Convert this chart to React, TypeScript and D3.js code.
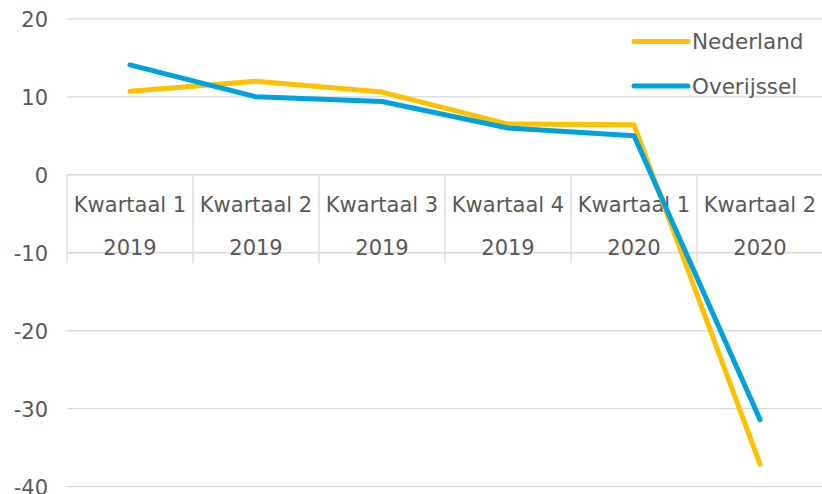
import React from "react";
import * as d3 from "d3";

const quarters = ["Kwartaal 1", "Kwartaal 2", "Kwartaal 3", "Kwartaal 4", "Kwartaal 1", "Kwartaal 2"];
const years = ["2019", "2019", "2019", "2019", "2020", "2020"];
const nederland = [10.7, 12.0, 10.6, 6.5, 6.4, -37.1];
const overijssel = [14.1, 10.0, 9.4, 6.0, 5.0, -31.4];
const yTicks = [20, 10, 0, -10, -20, -30, -40];
const seriesNames = ["Nederland", "Overijssel"];
const seriesColors = ["#FFC000", "#00A2DE"];

export default function App() {
  const W = 822, H = 494;
  const left = 67, right = 823;
  const idx = quarters.map((_, i) => i);
  const x = d3.scaleBand<number>().domain(idx).range([left, right]);
  const y = d3.scaleLinear().domain([-40, 20]).range([486.7, 18.8]);
  const font = "'DejaVu Sans', Verdana, sans-serif";
  const textColor = "#595959";
  const grid = "#d9d9d9";
  const line = d3.line<number>().x((_, i) => x(i)! + x.bandwidth() / 2).y(d => y(d));
  const series = [nederland, overijssel];
  const boundaries = d3.range(0, quarters.length + 1).map(i => left + i * x.bandwidth());
  return (
    <svg width={W} height={H} style={{ position: "absolute", left: 0, top: 0, background: "#fff" }}>
      {yTicks.map(t => (
        <g key={t}>
          <line x1={left} x2={right} y1={y(t)} y2={y(t)} stroke={grid} strokeWidth={1.3} />
          <text x={48} y={y(t) + 8.5} textAnchor="end" fontFamily={font} fontSize={21} fill={textColor}>{t}</text>
        </g>
      ))}
      {boundaries.map((b, i) => (
        <line key={i} x1={b} x2={b} y1={y(0)} y2={263} stroke={grid} strokeWidth={1.3} />
      ))}
      {idx.map(i => (
        <g key={i}>
          <text x={x(i)! + x.bandwidth() / 2} y={212} textAnchor="middle" fontFamily={font} fontSize={21} fill={textColor}>{quarters[i]}</text>
          <text x={x(i)! + x.bandwidth() / 2} y={255} textAnchor="middle" fontFamily={font} fontSize={21} fill={textColor}>{years[i]}</text>
        </g>
      ))}
      {series.map((s, k) => (
        <path key={k} d={line(s)!} fill="none" stroke={seriesColors[k]} strokeWidth={5} strokeLinecap="round" strokeLinejoin="round" />
      ))}
      {seriesNames.map((n, k) => (
        <g key={n}>
          <line x1={634} x2={688} y1={41.5 + k * 44.5} y2={41.5 + k * 44.5} stroke={seriesColors[k]} strokeWidth={5} strokeLinecap="round" />
          <text x={692} y={41.5 + k * 44.5 + 7.5} fontFamily={font} fontSize={21.5} fill={textColor}>{n}</text>
        </g>
      ))}
    </svg>
  );
}
